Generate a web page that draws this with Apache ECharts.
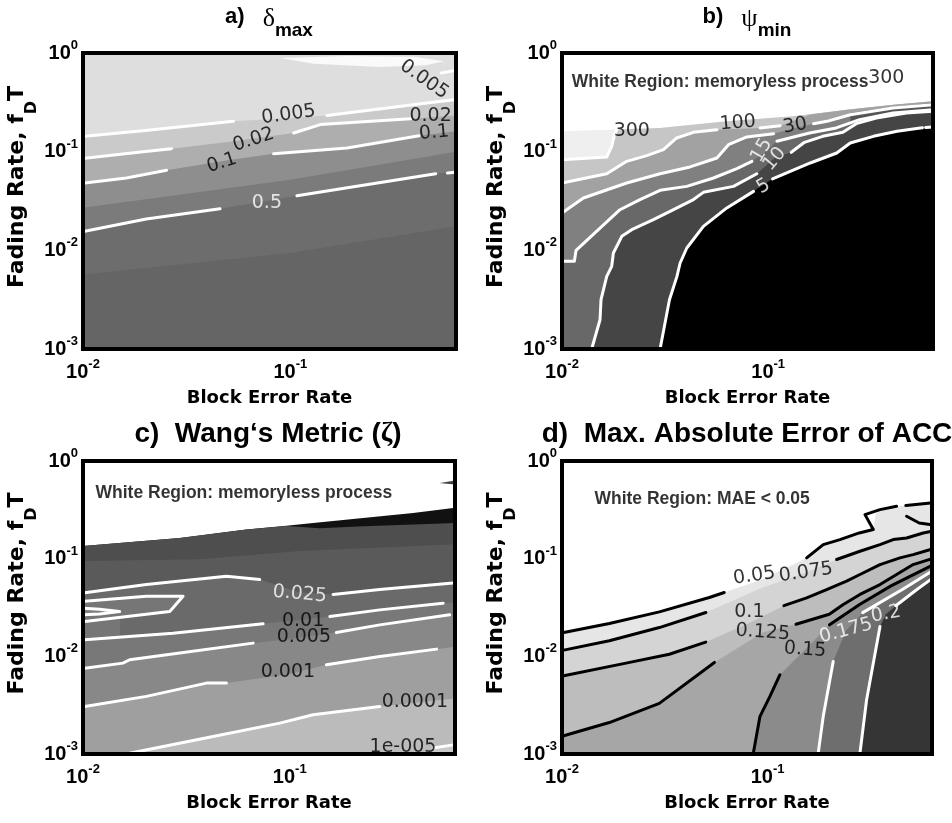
<!DOCTYPE html>
<html><head><meta charset="utf-8">
<script src="https://cdn.jsdelivr.net/npm/echarts@6/dist/echarts.min.js"></script>
<style>html,body{margin:0;padding:0;background:#fff}#c{width:952px;height:823px}</style>
</head><body><div id="c"></div>
<script>
// ---------- axes ----------
const xRange = [0.01, 0.63];
const yRange = [0.001, 1];
const xAxisName = 'Block Error Rate';
const yAxisName = ['Fading Rate, f', 'D', 'T'];

// ---------- panel a : delta_max ----------
const aIsleTop = [[0.0895,0.89],[0.188,0.93],[0.395,0.915],[0.552,0.823]];
const aIsleBot = [[0.087,0.89],[0.0895,0.89],[0.1297,0.78],[0.272,0.72],[0.45,0.75],[0.552,0.823],[0.56,0.823]];
const aBand1 = [[0.01,0.142],[0.02,0.164],[0.0532,0.203],[0.1,0.219],[0.15,0.233],[0.3,0.279],[0.5,0.319],[0.63,0.337]];
const aBand2 = [[0.01,0.0852],[0.02,0.1005],[0.0267,0.1072],[0.05,0.125],[0.1038,0.1546],[0.1396,0.188],[0.381,0.216],[0.63,0.232]];
const aBand3 = [[0.01,0.0478],[0.0162,0.0541],[0.0253,0.0647],[0.05,0.082],[0.083,0.0955],[0.188,0.109],[0.418,0.145],[0.63,0.161]];
const aBand4 = [[0.01,0.027],[0.1,0.052],[0.63,0.1]];
const aBand5 = [[0.01,0.0154],[0.0202,0.0208],[0.0458,0.0264],[0.1076,0.0358],[0.503,0.0598],[0.63,0.0625]];
const aBand6 = [[0.01,0.0057],[0.1,0.0094],[0.63,0.0175]];
const aLine0005 = [[[0.0102,0.143],[0.02,0.164],[0.0532,0.203]],[[0.150,0.233],[0.3,0.279],[0.5,0.319],[0.62,0.335]],[[0.535,0.627],[0.625,0.667]]];
const aLine002 = [[[0.0102,0.0856],[0.02,0.1005],[0.0267,0.1072]],[[0.1038,0.1546],[0.1396,0.188],[0.381,0.216]]];
const aLine01 = [[[0.0102,0.0481],[0.0162,0.0541],[0.0253,0.0647]],[[0.083,0.0955],[0.188,0.109],[0.418,0.145]]];
const aLine05 = [[[0.0102,0.0156],[0.0202,0.0208],[0.0458,0.0264]],[[0.1076,0.0358],[0.503,0.0598]],[[0.573,0.0608],[0.625,0.0619]]];
const aLabels = [
  ['0.005',[0.442,0.537],-35,'#000'],['0.005',[0.098,0.237],8,'#000'],['0.02',[0.0665,0.132],18,'#000'],
  ['0.1',[0.0467,0.0768],18,'#000'],['0.02',[0.475,0.232],0,'#000'],['0.1',[0.494,0.155],5,'#000'],['0.5',[0.0771,0.0302],0,'#fff']
];

// ---------- panel b : psi_min ----------
const bTop = [[0.01,0.1607],[0.0171,0.167],[0.0299,0.174],[0.063,0.2029],[0.132,0.228],[0.241,0.2666],[0.4058,0.2994],[0.611,0.3236],[0.63,0.3236]];
const b300 = [[0.01,0.083],[0.01648,0.0883],[0.01742,0.1133],[0.01808,0.1546],[0.0185,0.168],[0.0299,0.174],[0.063,0.2029],[0.132,0.228],[0.241,0.2666],[0.4058,0.2994],[0.63,0.3236]];
const b100 = [[0.01,0.0481],[0.01648,0.0598],[0.0206,0.0798],[0.02576,0.0911],[0.03104,0.1048],[0.036,0.1377],[0.0434,0.157],[0.0564,0.167],[0.0914,0.174],[0.1143,0.1835],[0.16,0.238],[0.241,0.2666],[0.4058,0.2994],[0.63,0.3236]];
const b30 = [[0.01,0.0239],[0.0127,0.0339],[0.0206,0.0481],[0.0299,0.0598],[0.0418,0.07],[0.0564,0.0863],[0.0642,0.1178],[0.0788,0.141],[0.1062,0.152],[0.135,0.174],[0.166,0.1922],[0.1928,0.2029],[0.25,0.237],[0.4029,0.277],[0.63,0.2994]];
const bCells = [[0.25,0.245],[0.3,0.262],[0.4,0.283],[0.5,0.298],[0.63,0.312]];
const b15 = [[0.01,0.00774],[0.01148,0.00774],[0.0117,0.01],[0.0191,0.0258],[0.0239,0.0327],[0.0299,0.0406],[0.0403,0.0445],[0.0543,0.0541],[0.0705,0.0673],[0.0834,0.0798],[0.0978,0.1006],[0.1102,0.1275],[0.1588,0.1546],[0.2138,0.174],[0.2775,0.211],[0.4029,0.2466],[0.63,0.2666]];
const b10 = [[0.01393,0.001],[0.01529,0.00198],[0.01546,0.00316],[0.01648,0.00545],[0.01742,0.00689],[0.01775,0.0094],[0.0195,0.01387],[0.02178,0.0162],[0.02775,0.0205],[0.03343,0.0248],[0.0434,0.0327],[0.0485,0.0387],[0.0679,0.0445],[0.0881,0.0598],[0.1075,0.0863],[0.1294,0.0985],[0.150,0.1244],[0.184,0.143],[0.2303,0.157],[0.2675,0.1922],[0.3343,0.2195],[0.4677,0.2466],[0.63,0.2564]];
const b5 = [[0.0299,0.001],[0.0332,0.00316],[0.0361,0.00545],[0.0374,0.00744],[0.0403,0.01056],[0.0485,0.0175],[0.063,0.0269],[0.0849,0.0396],[0.110,0.0562],[0.160,0.0768],[0.215,0.0969],[0.250,0.1225],[0.324,0.143],[0.422,0.161],[0.547,0.174],[0.63,0.178]];
const bLines = [
  [[0.01,0.083],[0.01648,0.0883],[0.01742,0.1133],[0.01808,0.1546],[0.0185,0.167]],
  [[0.01,0.0481],[0.01648,0.0598],[0.0206,0.0798],[0.02576,0.0911],[0.03104,0.1048],[0.036,0.1377],[0.0434,0.157],[0.0564,0.167]],
  [[0.0914,0.174],[0.1143,0.1835]],
  [[0.01,0.0239],[0.0127,0.0339],[0.0206,0.0481],[0.0299,0.0598],[0.0418,0.07],[0.0564,0.0863],[0.0642,0.1178],[0.0788,0.141],[0.1062,0.152]],
  [[0.166,0.1922],[0.1928,0.2029],[0.25,0.237],[0.4029,0.277],[0.63,0.2994]],
  [[0.01,0.00774],[0.01148,0.00774],[0.0117,0.01],[0.0191,0.0258],[0.0239,0.0327],[0.0299,0.0406],[0.0403,0.0445],[0.0543,0.0541],[0.0705,0.0673],[0.0834,0.0798]],
  [[0.1102,0.1275],[0.1588,0.1546],[0.2138,0.174],[0.2775,0.211],[0.4029,0.2466],[0.63,0.2666]],
  [[0.01393,0.001],[0.01529,0.00198],[0.01546,0.00316],[0.01648,0.00545],[0.01742,0.00689],[0.01775,0.0094],[0.0195,0.01387],[0.02178,0.0162],[0.02775,0.0205],[0.03343,0.0248],[0.0434,0.0327],[0.0485,0.0387],[0.0679,0.0445],[0.0881,0.0598]],
  [[0.1294,0.0985],[0.150,0.1244],[0.184,0.143],[0.2303,0.157],[0.2675,0.1922],[0.3343,0.2195],[0.4677,0.2466],[0.63,0.2564]],
  [[0.0299,0.001],[0.0332,0.00316],[0.0361,0.00545],[0.0374,0.00744],[0.0403,0.01056],[0.0485,0.0175],[0.063,0.0269],[0.0849,0.0396]],
  [[0.105,0.053],[0.160,0.0768],[0.215,0.0969],[0.250,0.1225],[0.324,0.143],[0.422,0.161],[0.547,0.174],[0.56,0.175]],
  [[0.58,0.176],[0.63,0.178]]
];
const bLabels = [
  ['300',[0.0218,0.161],0,'#000'],['100',[0.0713,0.195],5,'#000'],['30',[0.135,0.183],10,'#000'],
  ['15',[0.093,0.103],60,'#fff'],['10',[0.1075,0.0843],50,'#fff'],['5',[0.0948,0.0445],30,'#fff'],['300',[0.374,0.558],0,'#000']
];
const bNote = ['White Region: memoryless process',[0.0111,0.508]];

// ---------- panel c : Wang's metric ----------
const cWedgeTop = [[0.532,0.596],[0.63,0.632]];
const cWedgeBot = [[0.526,0.596],[0.532,0.596],[0.63,0.573]];
const cTW = [[0.01,0.135],[0.01019,0.1394],[0.02937,0.1631],[0.0617,0.1986],[0.0964,0.2176],[0.1297,0.2322],[0.2264,0.2612],[0.3953,0.2938],[0.617,0.3306],[0.63,0.3306]];
const cDark = [[0.01,0.135],[0.01019,0.1394],[0.02937,0.1631],[0.0617,0.1986],[0.0964,0.2163],[0.1397,0.2048],[0.2264,0.2147],[0.3953,0.2233],[0.63,0.2322]];
const cMid = [[0.01,0.0949],[0.0367,0.0987],[0.1117,0.12],[0.63,0.1405]];
const c025 = [[0.01,0.0447],[0.02026,0.0543],[0.0494,0.0661],[0.0716,0.0611],[0.1117,0.045],[0.162,0.043],[0.2725,0.0483],[0.617,0.0565],[0.63,0.0567]];
const cLoopTop = [[0.01,0.0367],[0.02026,0.0413],[0.03048,0.0413]];
const cLoopBot = [[0.01,0.0227],[0.02627,0.0288],[0.02726,0.0314],[0.03048,0.0413]];
const cInTop = [[0.01,0.0311],[0.01204,0.0304],[0.01504,0.0288]];
const cInBot = [[0.01,0.0266],[0.01204,0.0272],[0.01504,0.0288]];
const c01 = [[0.01,0.01476],[0.02726,0.01726],[0.0743,0.0215],[0.1117,0.0236],[0.1563,0.0256],[0.2725,0.0299],[0.552,0.035],[0.63,0.0355]];
const c005 = [[0.01,0.00757],[0.0156,0.00852],[0.01682,0.00922],[0.02937,0.01079],[0.0665,0.01365],[0.11,0.0155],[0.168,0.01755],[0.2725,0.021],[0.594,0.0266],[0.63,0.027]];
const c001 = [[0.01,0.00307],[0.02026,0.00389],[0.03953,0.00532],[0.0494,0.00532],[0.1,0.0066],[0.1504,0.00819],[0.2725,0.00997],[0.5129,0.01185],[0.63,0.0125]];
const c0001 = [[0.01682,0.001],[0.04256,0.00151],[0.0895,0.00207],[0.1297,0.00252],[0.2725,0.00307],[0.63,0.0037]];
const c1e5 = [[0.45,0.001],[0.494,0.00115],[0.617,0.00124],[0.63,0.00125]];
const cLines = [
  [[0.01019,0.0447],[0.02026,0.0543],[0.0494,0.0661],[0.0716,0.0611]],
  [[0.162,0.043],[0.2725,0.0483],[0.617,0.0565]],
  [[0.01019,0.0367],[0.02026,0.0413],[0.03048,0.0413],[0.02726,0.0314],[0.02627,0.0288],[0.01019,0.0227]],
  [[0.0101,0.0311],[0.01204,0.0304],[0.01504,0.0288],[0.01204,0.0272],[0.0101,0.0266]],
  [[0.01019,0.01476],[0.02726,0.01726],[0.0743,0.0215]],
  [[0.1563,0.0256],[0.2725,0.0299],[0.552,0.035]],
  [[0.01019,0.00757],[0.0156,0.00852],[0.01682,0.00922],[0.02937,0.01079],[0.0665,0.01365]],
  [[0.168,0.01755],[0.2725,0.021],[0.594,0.0266]],
  [[0.01019,0.00307],[0.02026,0.00389],[0.03953,0.00532],[0.0494,0.00532]],
  [[0.1504,0.00819],[0.2725,0.00997],[0.5129,0.01185]],
  [[0.01682,0.00102],[0.04256,0.00151],[0.0895,0.00207],[0.1297,0.00252],[0.2725,0.00307]],
  [[0.494,0.00115],[0.617,0.00124]]
];
const cLabels = [
  ['0.025',[0.1117,0.0433],-5,'#fff'],['0.01',[0.116,0.0227],0,'#000'],['0.005',[0.117,0.0156],0,'#000'],
  ['0.001',[0.098,0.00684],0,'#000'],['0.0001',[0.403,0.00337],0,'#000'],['1e-005',[0.353,0.00117],0,'#000']
];
const cNote = ['White Region: memoryless process',[0.01143,0.471]];

// ---------- panel d : MAE of ACC ----------
const d005 = [[0.01,0.01755],[0.01699,0.0217],[0.02974,0.02854],[0.05204,0.04],[0.0615,0.045],[0.0946,0.0616],[0.1548,0.1018],[0.1864,0.1394],[0.2247,0.1568],[0.2791,0.1834],[0.3266,0.1986],[0.335,0.2825],[0.3519,0.3178],[0.4236,0.3438],[0.63,0.3718]];
const d0075 = [[0.01,0.01157],[0.01699,0.01442],[0.02974,0.0197],[0.0501,0.0281],[0.0946,0.0506],[0.1536,0.0721],[0.2165,0.098],[0.2812,0.119],[0.3519,0.1394],[0.408,0.157],[0.474,0.163],[0.571,0.1834],[0.63,0.192]];
const d01 = [[0.01,0.00632],[0.02048,0.00852],[0.03326,0.0105],[0.05,0.014],[0.0815,0.022],[0.12,0.033],[0.1548,0.0397],[0.1936,0.0483],[0.242,0.0588],[0.2812,0.0688],[0.3519,0.087],[0.44,0.1018],[0.51,0.11],[0.63,0.126]];
const d0125 = [[0.01,0.00154],[0.01699,0.0021],[0.02974,0.0033],[0.0551,0.00866],[0.0946,0.01755],[0.1374,0.0213],[0.1995,0.027],[0.2333,0.0339],[0.2812,0.043],[0.3519,0.0543],[0.4236,0.0688],[0.51,0.087],[0.63,0.1]];
const d015 = [[0.0852,0.001],[0.0918,0.00243],[0.1026,0.00389],[0.1148,0.00648],[0.152,0.0117],[0.2,0.021],[0.28,0.034],[0.4,0.053],[0.63,0.085]];
const d0175 = [[0.1762,0.001],[0.1864,0.00243],[0.2084,0.00886],[0.2405,0.0183],[0.3,0.03],[0.45,0.048],[0.63,0.074]];
const d02 = [[0.2812,0.001],[0.3029,0.00359],[0.3519,0.0202],[0.376,0.027],[0.45,0.037],[0.53,0.048],[0.63,0.062]];
const dLinesBlack = [
  [[0.0102,0.01755],[0.01699,0.0217],[0.02974,0.02854],[0.05204,0.04],[0.0615,0.045]],
  [[0.1548,0.1018],[0.1864,0.1394],[0.2247,0.1568],[0.2791,0.1834],[0.3266,0.1986],[0.2974,0.2825],[0.3519,0.3178],[0.4236,0.3438]],
  [[0.47,0.35],[0.62,0.372]],
  [[0.0102,0.01157],[0.01699,0.01442],[0.02974,0.0197],[0.0501,0.0281]],
  [[0.2165,0.098],[0.2812,0.119],[0.3519,0.1394],[0.408,0.157],[0.474,0.163],[0.571,0.1834],[0.62,0.19]],
  [[0.474,0.2716],[0.546,0.232],[0.615,0.2233]],
  [[0.0102,0.00632],[0.02048,0.00852],[0.03326,0.0105],[0.05,0.014]],
  [[0.12,0.033],[0.1548,0.0397],[0.1936,0.0483],[0.242,0.0588],[0.2812,0.0688],[0.3519,0.087],[0.44,0.1018],[0.51,0.11],[0.62,0.124]],
  [[0.0102,0.00154],[0.01699,0.0021],[0.02974,0.0033],[0.0551,0.00866]],
  [[0.1374,0.0213],[0.1995,0.027],[0.2333,0.0339],[0.2812,0.043],[0.3519,0.0543],[0.4236,0.0688],[0.51,0.087],[0.62,0.099]],
  [[0.0852,0.00102],[0.0918,0.00243],[0.1026,0.00389],[0.1148,0.00648]],
  [[0.2,0.021],[0.28,0.034],[0.4,0.053],[0.62,0.084]]
];
const dLinesWhite = [
  [[0.1762,0.00102],[0.1864,0.00243],[0.2084,0.00886]],
  [[0.29,0.028],[0.45,0.048],[0.62,0.073]],
  [[0.2812,0.00102],[0.3029,0.00359],[0.3519,0.0202]],
  [[0.42,0.033],[0.53,0.048],[0.62,0.061]]
];
const dLabels = [
  ['0.05',[0.0861,0.0667],8,'#000'],['0.075',[0.1536,0.0721],8,'#000'],['0.1',[0.0815,0.0281],0,'#000'],
  ['0.125',[0.0946,0.01755],-4,'#000'],['0.15',[0.152,0.01167],-4,'#000'],['0.175',[0.2405,0.01825],15,'#fff'],['0.2',[0.376,0.027],10,'#fff']
];
const dNote = ['White Region: MAE < 0.05',[0.0143,0.409]];

// ---------- build ----------
const grids = [
  {left:83, top:53, width:373, height:296, show:true, backgroundColor:'#dedede', borderWidth:0},
  {left:562, top:53, width:371, height:296, show:true, backgroundColor:'#fff', borderWidth:0},
  {left:83, top:461, width:372, height:293, show:true, backgroundColor:'#fff', borderWidth:0},
  {left:562, top:461, width:370, height:293, show:true, backgroundColor:'#fff', borderWidth:0}
];
const border = {show:true, onZero:false, lineStyle:{color:'#000', width:4, cap:'square'}};
const tickFmt = v => {
  const l = Math.log10(v), e = Math.round(l);
  if (Math.abs(l - e) > 1e-6) return '';
  return '{m|10}{e|' + e + '}';
};
const tickRich = {
  m:{fontFamily:'Liberation Sans', fontWeight:'bold', fontSize:20, color:'#000', lineHeight:28, verticalAlign:'middle'},
  e:{fontFamily:'Liberation Sans', fontWeight:'bold', fontSize:13, color:'#000', lineHeight:15, verticalAlign:'top'}
};
const nameRich = {
  t0:{fontFamily:'DejaVu Sans', fontWeight:'bold', fontSize:22, color:'#000', lineHeight:44, verticalAlign:'top', padding:[0,0,0,28]},
  t:{fontFamily:'DejaVu Sans', fontWeight:'bold', fontSize:22, color:'#000', lineHeight:44, verticalAlign:'top'},
  s:{fontFamily:'DejaVu Sans', fontWeight:'bold', fontSize:16, color:'#000', lineHeight:44, verticalAlign:'top', padding:[18,0,0,0]}
};
const xAxes = [], yAxes = [], series = [];
grids.forEach((g, i) => {
  xAxes.push({gridIndex:i, type:'log', logBase:10, min:xRange[0], max:xRange[1], position:'bottom', z:10,
    axisLine:border, axisTick:{show:false}, minorTick:{show:false}, splitLine:{show:false},
    axisLabel:{formatter:tickFmt, rich:tickRich, margin:9, showMaxLabel:false},
    name:xAxisName, nameLocation:'middle', nameGap:40,
    nameTextStyle:{fontFamily:'DejaVu Sans', fontWeight:'bold', fontSize:18, color:'#000'}});
  xAxes.push({gridIndex:i, type:'log', logBase:10, min:xRange[0], max:xRange[1], position:'top', z:10,
    axisLine:border, axisTick:{show:false}, axisLabel:{show:false}, splitLine:{show:false}});
  yAxes.push({gridIndex:i, type:'log', logBase:10, min:yRange[0], max:yRange[1], position:'left', z:10,
    axisLine:border, axisTick:{show:false}, minorTick:{show:false}, splitLine:{show:false},
    axisLabel:{formatter:tickFmt, rich:tickRich, margin:5},
    name:'{t0|' + yAxisName[0] + '}{s|' + yAxisName[1] + '}{t|' + yAxisName[2] + '}',
    nameLocation:'middle', nameGap:21, nameTextStyle:{rich:nameRich}});
  yAxes.push({gridIndex:i, type:'log', logBase:10, min:yRange[0], max:yRange[1], position:'right', z:10,
    axisLine:border, axisTick:{show:false}, axisLabel:{show:false}, splitLine:{show:false}});
});
function fill(gi, data, color) {
  series.push({type:'line', xAxisIndex:gi*2, yAxisIndex:gi*2, data, symbol:'none', silent:true, animation:false,
    lineStyle:{width:0, opacity:0}, areaStyle:{color, opacity:1, origin:'start'}, z:1, clip:true});
}
function lines(gi, segs, color) {
  segs.forEach(s => series.push({type:'line', xAxisIndex:gi*2, yAxisIndex:gi*2, data:s, symbol:'none', silent:true,
    animation:false, lineStyle:{color, width:3, cap:'round', join:'round'}, z:2, clip:true}));
}
function labels(gi, list) {
  series.push({type:'scatter', xAxisIndex:gi*2, yAxisIndex:gi*2, symbolSize:1, itemStyle:{color:'transparent'},
    silent:true, animation:false, z:3,
    label:{show:true, position:'inside', formatter:'{b}', fontFamily:'DejaVu Sans', fontSize:19},
    data:list.map(l => ({name:l[0], value:l[1], label:{rotate:l[2], color:l[3]}}))});
}
function note(gi, n) {
  series.push({type:'scatter', xAxisIndex:gi*2, yAxisIndex:gi*2, symbolSize:1, itemStyle:{color:'transparent'},
    silent:true, animation:false, z:3,
    label:{show:true, position:'right', distance:0, formatter:'{b}', fontFamily:'Liberation Sans', fontWeight:'bold', fontSize:17.5, color:'#000'},
    data:[{name:n[0], value:n[1]}]});
}
// a
[[aIsleTop,'#fafafa'],[aIsleBot,'#dedede'],[aBand1,'#cacaca'],[aBand2,'#aeaeae'],[aBand3,'#8e8e8e'],[aBand4,'#7b7b7b'],[aBand5,'#6d6d6d'],[aBand6,'#656565']]
  .forEach(f => fill(0, f[0], f[1]));
[aLine0005, aLine002, aLine01, aLine05].forEach(l => lines(0, l, '#fff'));
labels(0, aLabels);
// b
[[bTop,'#efefef'],[b300,'#c6c6c6'],[b100,'#a2a2a2'],[b30,'#808080'],[bCells,'#555555'],[b15,'#686868'],[b10,'#454545'],[b5,'#000']]
  .forEach(f => fill(1, f[0], f[1]));
lines(1, bLines, '#fff');
labels(1, bLabels); note(1, bNote);
// c
[[cWedgeTop,'#444'],[cWedgeBot,'#fff'],[cTW,'#111'],[cDark,'#4e4e4e'],[cMid,'#5a5a5a'],[c025,'#6a6a6a'],[cLoopTop,'#767676'],[cLoopBot,'#6a6a6a'],
 [cInTop,'#808080'],[cInBot,'#767676'],[c01,'#787878'],[c005,'#888888'],[c001,'#9f9f9f'],[c0001,'#bbbbbb'],[c1e5,'#c9c9c9']]
  .forEach(f => fill(2, f[0], f[1]));
lines(2, cLines, '#fff');
labels(2, cLabels); note(2, cNote);
// d
[[d005,'#e6e6e6'],[d0075,'#d4d4d4'],[d01,'#bdbdbd'],[d0125,'#a6a6a6'],[d015,'#8b8b8b'],[d0175,'#6e6e6e'],[d02,'#353535']]
  .forEach(f => fill(3, f[0], f[1]));
lines(3, dLinesBlack, '#000'); lines(3, dLinesWhite, '#fff');
labels(3, dLabels); note(3, dNote);

// titles
const tRichSmall = {
  l:{fontFamily:'Liberation Sans', fontWeight:'bold', fontSize:22, lineHeight:46, verticalAlign:'top', padding:[0,18,0,0]},
  g:{fontFamily:'Liberation Serif', fontSize:26, lineHeight:46, verticalAlign:'top'},
  s:{fontFamily:'Liberation Sans', fontWeight:'bold', fontSize:19, lineHeight:46, verticalAlign:'top', padding:[15,0,0,0]}
};
const tRichBig = {
  l:{fontFamily:'Liberation Sans', fontWeight:'bold', fontSize:28, lineHeight:34, verticalAlign:'top'},
  g:{fontFamily:'Liberation Serif', fontWeight:'bold', fontSize:28, lineHeight:34, verticalAlign:'top'}
};
const graphic = [
  {type:'text', x:269, y:6, style:{text:'{l|a)}{g|δ}{s|max}', rich:tRichSmall, align:'center', verticalAlign:'top', fill:'#000'}},
  {type:'text', x:747, y:6, style:{text:'{l|b)}{g|ψ}{s|min}', rich:tRichSmall, align:'center', verticalAlign:'top', fill:'#000'}},
  {type:'text', x:268, y:420, style:{text:'{l|c)  Wang‘s Metric (}{g|ζ}{l|)}', rich:tRichBig, align:'center', verticalAlign:'top', fill:'#000'}},
  {type:'text', x:747, y:420, style:{text:'{l|d)  Max. Absolute Error of ACC}', rich:tRichBig, align:'center', verticalAlign:'top', fill:'#000'}}
];

const chart = echarts.init(document.getElementById('c'), null, {renderer:'canvas'});
chart.setOption({animation:false, backgroundColor:'#fff', grid:grids, xAxis:xAxes, yAxis:yAxes, series, graphic});
</script></body></html>
